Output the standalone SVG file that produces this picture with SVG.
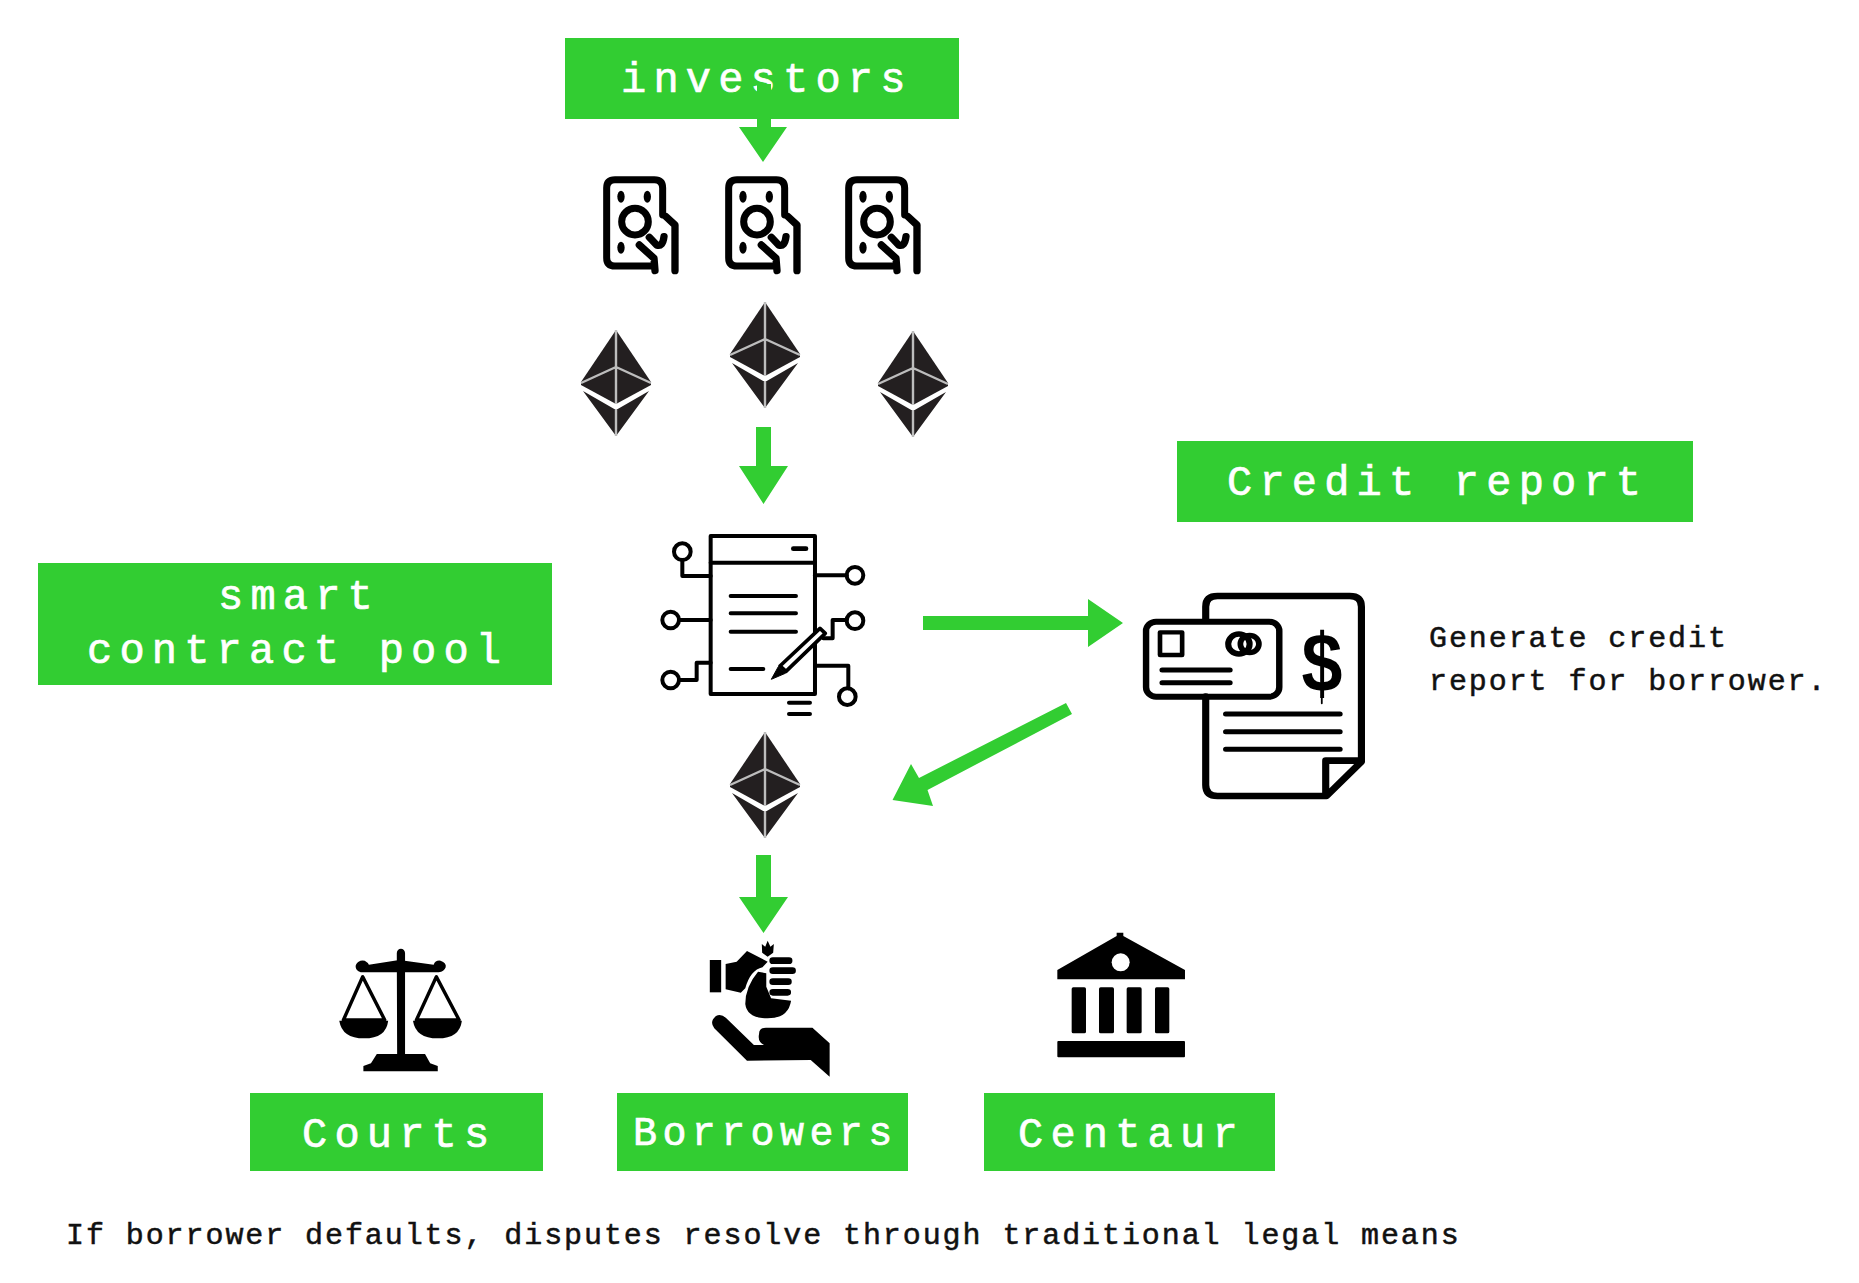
<svg xmlns="http://www.w3.org/2000/svg" xmlns:xlink="http://www.w3.org/1999/xlink" width="1859" height="1283" viewBox="0 0 1859 1283">
<style>
.box{fill:#32cd32}
.lab{font-family:"Liberation Mono",monospace;font-size:42px;letter-spacing:7.2px;fill:#fff;stroke:#fff;stroke-width:.7px}
.note{font-family:"Liberation Mono",monospace;font-size:30px;letter-spacing:1.92px;fill:#111;stroke:#111;stroke-width:.5px}
.ln{fill:none;stroke:#000;stroke-linecap:round;stroke-linejoin:round}
.arrow{fill:#32cd32}
</style>
<defs>
<g id="eth">
<path d="M0 0L-35 52L-35 55L0 74L35 55L35 52Z" fill="#231f20"/>
<path d="M-33 61L0 80L33 61L0 106Z" fill="#231f20"/>
<path d="M0 0V74M0 80V106M-35 53L0 37L35 53" fill="none" stroke="#bdbdbd" stroke-width="2.4"/>
</g>
<g id="note">
<g transform="scale(.3333)">
<path class="ln" stroke-width="21" d="M275 738H165Q140 738 140 713V504Q140 479 165 479H283Q308 479 308 504V585"/>
<path class="ln" stroke-width="22" d="M318 590L345 615V752M238 675L282 715L285 752M268 652L290 675Q308 682 312 650"/>
<circle class="ln" cx="225" cy="605" r="40" stroke-width="21"/>
<ellipse cx="183" cy="530" rx="11" ry="18"/>
<ellipse cx="262" cy="530" rx="11" ry="18"/>
<ellipse cx="183" cy="683" rx="11" ry="18"/>
</g>
</g>
</defs>

<g id="investors">
<rect class="box" x="565" y="38" width="394" height="81"/>
<text class="lab" x="621" y="92">investors</text>
</g>
<g id="note-1"><use href="#note" x="560" y="20"/></g>
<g id="note-2"><use href="#note" x="682" y="20"/></g>
<g id="note-3"><use href="#note" x="802" y="20"/></g>
<g id="eth-1"><use href="#eth" x="616" y="330"/></g>
<g id="eth-2"><use href="#eth" x="765" y="302"/></g>
<g id="eth-3"><use href="#eth" x="913" y="331"/></g>
<g id="eth-4"><use href="#eth" x="765" y="732"/></g>

<g id="smart-contract-pool">
<rect class="box" x="38" y="563" width="514" height="122"/>
<text class="lab" x="218" y="609">smart</text>
<text class="lab" x="87" y="663">contract pool</text>
</g>

<g id="contract-icon" transform="translate(640 500) scale(.3333)">
<rect class="ln" x="212" y="108" width="313" height="474" stroke-width="12" stroke-linejoin="miter"/>
<path class="ln" stroke-width="12" d="M212 188H525M272 288H468M272 340H468M272 395H468M272 507H370M447 608H510M447 642H510"/>
<path class="ln" stroke-width="14" d="M460 146H498"/>
<g stroke-width="12" class="ln">
<circle cx="127" cy="155" r="25"/><path d="M127 180V228H212"/>
<circle cx="92" cy="360" r="25"/><path d="M118 360H212"/>
<circle cx="92" cy="540" r="25"/><path d="M118 540H170V488H212"/>
<circle cx="645" cy="226" r="25"/><path d="M525 226H620"/>
<circle cx="645" cy="362" r="25"/><path d="M620 360H578V415H550"/>
<circle cx="622" cy="590" r="25"/><path d="M525 497H625V565"/>
</g>
<path d="M420 498L540 385L556 400L438 514Z" fill="#fff" stroke="#000" stroke-width="11" stroke-linejoin="round"/>
<path d="M394 538L415 500L436 520Z" fill="#000" stroke="#000" stroke-width="3"/>
</g>

<g id="credit-report">
<rect class="box" x="1177" y="441" width="516" height="81"/>
<text class="lab" x="1227" y="495">Credit report</text>
</g>
<g id="credit-icon">
<g transform="translate(880 570) scale(.35714 .3333)">
<path class="ln" stroke-width="20" d="M912 150V110Q912 78 945 78H1315Q1348 78 1348 110V575L1250 678H945Q912 678 912 645V380M1348 572H1248V678"/>
<rect class="ln" x="745" y="155" width="373" height="225" rx="28" stroke-width="18"/>
<rect class="ln" x="784" y="187" width="62" height="68" stroke-width="13" stroke-linejoin="miter"/>
<circle class="ln" cx="1005" cy="222" r="30" stroke-width="17"/>
<circle class="ln" cx="1035" cy="222" r="26" stroke-width="16"/>
<path class="ln" stroke-width="15" d="M790 300H980M790 338H980M968 432H1288M968 485H1288M968 538H1288"/>
<path class="ln" stroke-width="5" d="M1237 183V400"/>
</g>
<text transform="translate(1322 692) scale(.92 1.05)" text-anchor="middle" font-family="Liberation Sans, sans-serif" font-weight="700" font-size="80" fill="#000">$</text>
</g>
<g id="generate-note">
<text class="note" x="1429" y="647">Generate credit</text>
<text class="note" x="1429" y="690">report for borrower.</text>
</g>

<g id="courts-icon" transform="translate(320 930) scale(.34435 .3333)">
<path d="M223 70a12 14 0 0 1 24 0V372H305L320 400L342 408V424H126V408L148 400L165 372H224Z"/>
<path d="M118 127Q100 120 104 105Q112 88 130 92Q140 98 142 104L230 90L330 104Q335 90 350 92Q368 98 365 112Q360 126 345 127Z"/>
<g class="ln" stroke-width="10">
<path d="M124 140L68 270H188Z"/>
<path d="M338 140L280 270H404Z"/>
</g>
<path d="M56 272H198Q192 325 128 325Q64 325 56 272Z"/>
<path d="M270 272H412Q406 325 342 325Q278 325 270 272Z"/>
</g>

<g id="borrowers-icon" transform="translate(320 930) scale(.34435 .3333)">
<path d="M1132 90H1165V187H1132Z"/>
<path d="M1178 102L1210 95L1240 63L1300 95L1285 112Q1250 120 1235 175L1222 188L1178 178Z"/>
<path d="M1272 125Q1235 170 1235 222Q1240 265 1300 265Q1360 265 1368 212L1310 205L1296 170L1296 130Z"/>
<path class="ln" stroke-width="20" d="M1315 92H1362M1315 122H1372M1315 155H1360M1315 187H1358"/>
<path d="M1283 42L1293 50L1300 32L1308 50L1318 42L1316 68L1300 80L1284 68Z"/>
<path d="M1275 312Q1275 293 1295 293H1430L1480 340V440L1425 390L1240 392L1145 295Q1130 275 1150 258Q1165 250 1180 265L1260 345H1335V352L1290 345Q1270 335 1275 312Z"/>
</g>

<g id="centaur-icon" transform="translate(1030 920) scale(.3333)">
<path d="M82 150L260 48V38H280V48L465 150V178H82Z"/>
<circle cx="272" cy="127" r="27" fill="#fff"/>
<rect x="125" y="202" width="43" height="138" rx="5"/>
<rect x="207" y="202" width="45" height="138" rx="5"/>
<rect x="290" y="202" width="45" height="138" rx="5"/>
<rect x="375" y="202" width="43" height="138" rx="5"/>
<rect x="82" y="363" width="383" height="49" rx="3"/>
</g>

<g id="courts">
<rect class="box" x="250" y="1093" width="293" height="78"/>
<text class="lab" x="302" y="1147">Courts</text>
</g>
<g id="borrowers">
<rect class="box" x="617" y="1093" width="291" height="78"/>
<text class="lab" x="633" y="1145" style="font-size:40px;letter-spacing:5.4px">Borrowers</text>
</g>
<g id="centaur">
<rect class="box" x="984" y="1093" width="291" height="78"/>
<text class="lab" x="1018" y="1147">Centaur</text>
</g>
<g id="dispute-note">
<text class="note" x="66" y="1244">If borrower defaults, disputes resolve through traditional legal means</text>
</g>

<g id="connectors">
<path class="arrow" d="M757 84H771V127H787L763 162L739 127H757Z"/>
<path class="arrow" d="M756 427H771V466H788L763.500 504L739 466H756Z"/>
<path class="arrow" d="M923 616H1088V599L1123 623L1088 647V630H923Z"/>
<path class="arrow" d="M1066 703L1072 714L927.500 790L933 806L892.500 800L911 764L919 778Z"/>
<path class="arrow" d="M756 855H771V897H788L763.500 933L739 897H756Z"/>
</g>
</svg>
